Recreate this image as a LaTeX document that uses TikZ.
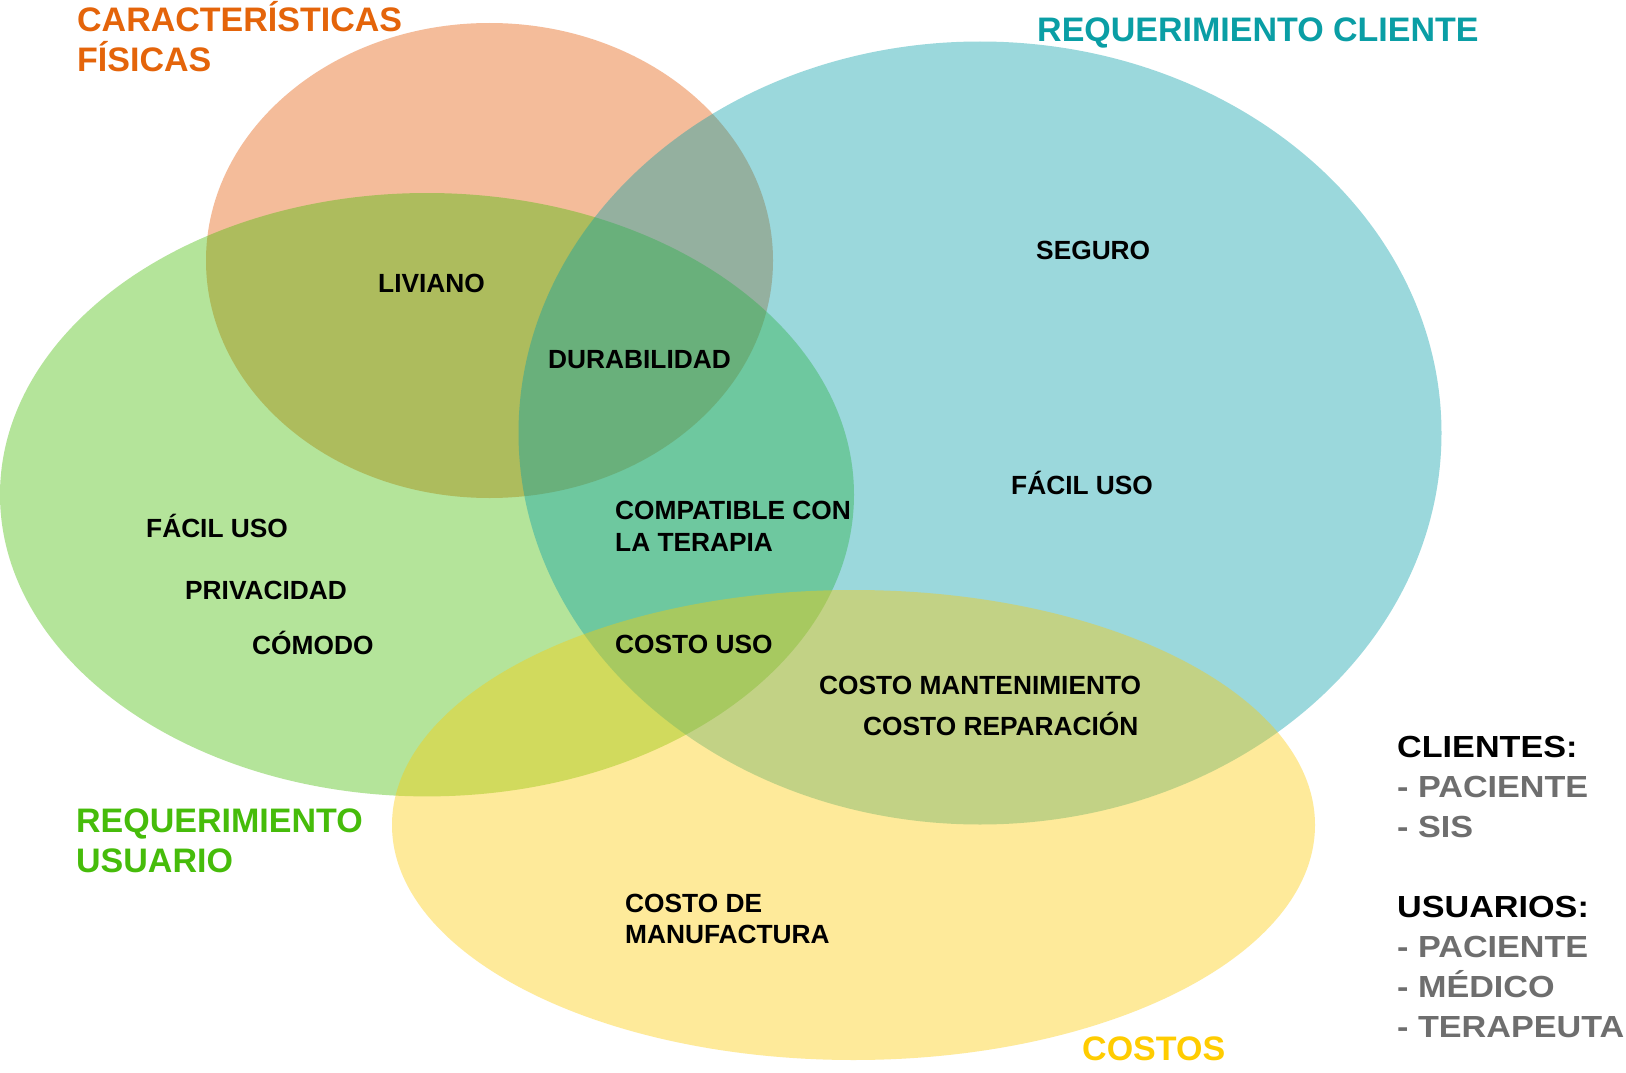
\documentclass[tikz,border=0pt]{standalone}
\usepackage{fontspec}
\setmainfont{Liberation Sans}
\newfontfamily\legfont{Liberation Sans}[FakeStretch=1.12]
\definecolor{cOrange}{RGB}{228,88,3}
\definecolor{cGreen}{RGB}{68,188,3}
\definecolor{cTeal}{RGB}{5,158,168}
\definecolor{cYellow}{RGB}{253,203,3}
\definecolor{tOrange}{RGB}{228,100,10}
\definecolor{tGreen}{RGB}{70,188,10}
\definecolor{tTeal}{RGB}{10,158,165}
\definecolor{tYellow}{RGB}{255,204,0}
\definecolor{legGray}{RGB}{110,110,110}
\tikzset{
  setfill/.style={fill=#1, fill opacity=0.4},
  lbl/.style={anchor=base west, inner sep=0pt, font=\fontsize{26.3}{30}\selectfont\bfseries, text=black},
  ttl/.style={anchor=base west, inner sep=0pt, font=\fontsize{34}{38}\selectfont\bfseries},
  leg/.style={anchor=base west, inner sep=0pt, font=\legfont\fontsize{30.5}{40}\selectfont\bfseries},
}
\begin{document}
\begin{tikzpicture}[x=1pt,y=-1pt]
\useasboundingbox (0,0) rectangle (1626,1073);
\fill[white] (0,0) rectangle (1626,1073);
% sets
\path[setfill=cOrange] (489.5,260.5) ellipse [x radius=283.5pt, y radius=237.5pt];
\path[setfill=cGreen] (427,494.7) ellipse [x radius=427pt, y radius=301.7pt];
\path[setfill=cTeal] (980,433) ellipse [x radius=461.5pt, y radius=391.5pt];
\path[setfill=cYellow] (853.5,825) ellipse [x radius=461.5pt, y radius=235pt];
% titles
\node[ttl, text=tOrange] (t1a) at (77,32) {CARACTERÍSTICAS};
\node[ttl, text=tOrange] (t1b) at (77,71) {FÍSICAS};
\node[ttl, text=tTeal] (t2) at (1037,42) {REQUERIMIENTO CLIENTE};
\node[ttl, text=tGreen] (t3a) at (76,832) {REQUERIMIENTO};
\node[ttl, text=tGreen] (t3b) at (76,872) {USUARIO};
\node[ttl, text=tYellow] (t4) at (1082,1060) {COSTOS};
% inner labels
\node[lbl] (liv) at (378,292) {LIVIANO};
\node[lbl] (dur) at (548,368) {DURABILIDAD};
\node[lbl] (seg) at (1036,259) {SEGURO};
\node[lbl] (fur) at (1011,494) {FÁCIL USO};
\node[lbl] (ful) at (146,537) {FÁCIL USO};
\node[lbl] (pri) at (185,599) {PRIVACIDAD};
\node[lbl] (com) at (252,654) {CÓMODO};
\node[lbl] (cta) at (615,519) {COMPATIBLE CON};
\node[lbl] (ctb) at (615,551) {LA TERAPIA};
\node[lbl] (cu) at (615,653) {COSTO USO};
\node[lbl] (cm) at (819,694) {COSTO MANTENIMIENTO};
\node[lbl] (cr) at (863,735) {COSTO REPARACIÓN};
\node[lbl] (cfa) at (625,912) {COSTO DE};
\node[lbl] (cfb) at (625,943) {MANUFACTURA};
% legend
\node[leg, text=black] (l1) at (1397,757) {CLIENTES:};
\node[leg, text=legGray] (l2) at (1397,797) {- PACIENTE};
\node[leg, text=legGray] (l3) at (1397,837) {- SIS};
\node[leg, text=black] (l4) at (1397,917) {USUARIOS:};
\node[leg, text=legGray] (l5) at (1397,957) {- PACIENTE};
\node[leg, text=legGray] (l6) at (1397,997) {- MÉDICO};
\node[leg, text=legGray] (l7) at (1397,1037) {- TERAPEUTA};
\end{tikzpicture}
\end{document}
